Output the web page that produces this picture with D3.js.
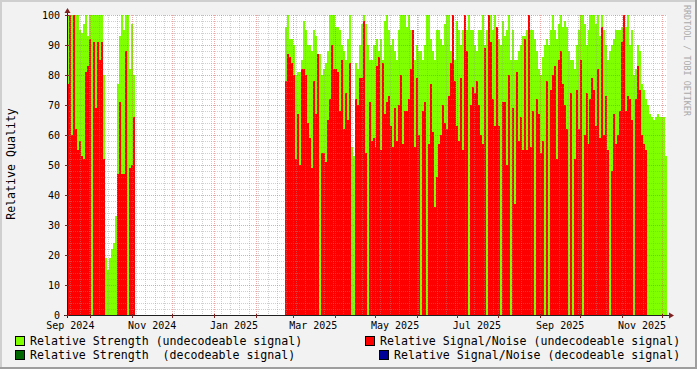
<!DOCTYPE html>
<html>
<head>
<meta charset="utf-8">
<script src="https://cdn.jsdelivr.net/npm/d3@7/dist/d3.min.js"></script>
<style>
  body { margin: 0; background: #f2f2f2; }
  svg { display: block; }
  text { font-family: "DejaVu Sans Mono", monospace; white-space: pre; }
</style>
</head>
<body>
<svg id="chart"></svg>
<script>
// --- data (one value per ~1.5 days) ---
const stepHours = 35.6;

// first block: mid Sep 2024 -> early Nov 2024
const startA = new Date(2024, 8, 13, 12, 30);
const strengthA = [100,100,100,100,100,100,95,94,97,100,93,100,100,100,100,100,100,100,80,
  19,15,19,22,24,33,77,93,100,95,100,100,82,97,80];
const snrA = [77,100,60,100,62,55,58,53,52,81,83,92,0,91,69,91,85,91,52,
  0,0,0,0,0,0,47,71,47,47,88,0,49,50,66];

// second block: late Feb 2025 -> Nov 2025
const startC = new Date(2025, 1, 22, 22, 0);
const strengthC = [
  96,100,92,92,90,80,81,81,85,98,95,90,90,88,95,93,85,87,80,82,84,88,100,100,
  100,96,96,95,90,88,85,92,100,56,53,84,82,90,97,100,97,90,85,85,90,90,92,88,
  92,85,98,100,95,90,92,88,85,95,100,100,100,96,100,95,95,85,90,88,88,85,90,100,
  100,92,88,85,95,95,92,90,97,100,100,88,100,85,98,95,90,95,100,95,100,95,95,90,88,
  95,95,100,90,95,100,100,95,100,92,92,90,98,93,95,100,85,95,85,85,88,90,93,93,
  95,100,95,95,92,88,82,80,86,90,92,90,95,100,95,92,97,100,96,98,96,88,85,85,82,
  90,95,100,100,97,90,95,100,100,100,97,100,93,100,95,90,85,88,90,92,95,95,95,96,
  100,96,100,90,95,80,82,90,88,77,75,72,70,67,66,65,66,67,66,66,66,53];
const snrC = [
  78,87,86,84,80,52,67,50,82,82,80,64,59,49,78,67,87,0,54,54,51,65,72,90,
  82,82,81,68,85,62,74,65,84,0,0,72,70,79,79,98,54,0,71,58,59,56,83,86,
  55,84,67,71,73,63,56,69,58,70,80,57,68,68,72,82,95,56,79,60,0,68,71,0,
  57,77,61,36,46,57,60,70,64,62,73,84,100,78,63,58,79,55,100,88,0,70,76,74,78,
  70,60,57,89,0,100,91,72,63,96,63,0,71,71,50,80,0,69,37,81,58,66,55,92,
  55,100,56,68,0,72,67,54,58,0,78,0,75,80,83,52,85,88,77,70,62,0,74,0,52,
  75,62,85,0,60,74,57,72,79,75,63,82,59,96,60,73,55,0,48,67,57,60,68,91,
  100,68,73,72,65,0,72,83,75,60,57,55,0,0,0,0,0,0,0,0,0,0];

const segments = [
  { start: startA, strength: strengthA, snr: snrA },
  { start: startC, strength: strengthC, snr: snrC }
];

const xDomain = [new Date(2024, 8, 13, 12, 30), new Date(2025, 11, 4, 15, 0)];
const yTicksMajor = d3.range(0, 101, 10);
const yTicksMinor = d3.range(0, 101, 2).filter(d => d % 10 !== 0);

const legendItems = [
  { label: "Relative Strength (undecodeable signal)", color: "#7fff00" },
  { label: "Relative Signal/Noise (undecodeable signal)", color: "#ff0000" },
  { label: "Relative Strength  (decodeable signal)", color: "#006600" },
  { label: "Relative Signal/Noise (decodeable signal)", color: "#000099" }
];

// --- layout ---
const width = 697, height = 369;
const plot = { left: 67, top: 15, w: 600, h: 300 };

const svg = d3.select("#chart")
  .attr("width", width)
  .attr("height", height);

// background with rrdtool style shading
svg.append("rect").attr("width", width).attr("height", height).attr("fill", "#f2f2f2");
svg.append("path")
  .attr("d", `M0,0H${width}V2H2V${height}H0Z`)
  .attr("fill", "#cfcfcf");
svg.append("path")
  .attr("d", `M${width},${height}H0V${height - 2}H${width - 2}V0H${width}Z`)
  .attr("fill", "#9e9e9e");

const x = d3.scaleTime().domain(xDomain).range([plot.left, plot.left + plot.w]);
const y = d3.scaleLinear().domain([0, 100]).range([plot.top + plot.h, plot.top]);

svg.append("rect")
  .attr("x", plot.left).attr("y", plot.top)
  .attr("width", plot.w).attr("height", plot.h)
  .attr("fill", "#ffffff");

const stepMs = stepHours * 3600 * 1000;

function points(seg, key) {
  const vals = seg[key];
  const pts = vals.map((v, i) => ({ t: new Date(+seg.start + i * stepMs), v }));
  pts.push({ t: new Date(+seg.start + vals.length * stepMs), v: vals[vals.length - 1] });
  return pts;
}

const area = d3.area()
  .curve(d3.curveStepAfter)
  .x(d => x(d.t))
  .y0(y(0))
  .y1(d => y(d.v));

const gData = svg.append("g").attr("shape-rendering", "crispEdges");
segments.forEach(seg => {
  gData.append("path").attr("d", area(points(seg, "strength"))).attr("fill", "#7fff00");
  gData.append("path").attr("d", area(points(seg, "snr"))).attr("fill", "#ff0000");
});

// grid (drawn over the data, like rrdtool)
const gGrid = svg.append("g").attr("shape-rendering", "crispEdges");
const weeks = d3.timeMonday.range(xDomain[0], xDomain[1]);
const months = d3.timeMonth.range(xDomain[0], xDomain[1]);
const monthSet = new Set(months.map(d => +d3.timeDay.floor(d)));

gGrid.selectAll(".vmin").data(weeks.filter(d => !monthSet.has(+d))).join("line")
  .attr("x1", d => Math.round(x(d)) + 0.5).attr("x2", d => Math.round(x(d)) + 0.5)
  .attr("y1", plot.top).attr("y2", plot.top + plot.h)
  .attr("stroke", "rgba(150,150,150,0.45)").attr("stroke-dasharray", "1,1");
gGrid.selectAll(".hmin").data(yTicksMinor).join("line")
  .attr("x1", plot.left).attr("x2", plot.left + plot.w)
  .attr("y1", d => y(d) + 0.5).attr("y2", d => y(d) + 0.5)
  .attr("stroke", "rgba(150,150,150,0.45)").attr("stroke-dasharray", "1,1");
gGrid.selectAll(".vmaj").data(months).join("line")
  .attr("x1", d => Math.round(x(d)) + 0.5).attr("x2", d => Math.round(x(d)) + 0.5)
  .attr("y1", plot.top).attr("y2", plot.top + plot.h)
  .attr("stroke", "rgba(222,79,79,0.5)").attr("stroke-dasharray", "1,1");
gGrid.selectAll(".hmaj").data(yTicksMajor.filter(d => d > 0)).join("line")
  .attr("x1", plot.left).attr("x2", plot.left + plot.w)
  .attr("y1", d => y(d) + 0.5).attr("y2", d => y(d) + 0.5)
  .attr("stroke", "rgba(222,79,79,0.5)").attr("stroke-dasharray", "1,1");

// axes
const axisCol = "#1f1f1f", arrowCol = "#802020";
const x0 = plot.left, y0 = plot.top + plot.h;
svg.append("line").attr("x1", x0 - 3).attr("x2", x0 + plot.w + 3)
  .attr("y1", y0 + 0.5).attr("y2", y0 + 0.5).attr("stroke", axisCol);
svg.append("line").attr("x1", x0 + 0.5).attr("x2", x0 + 0.5)
  .attr("y1", y0 + 3).attr("y2", plot.top - 3).attr("stroke", axisCol);
svg.append("path").attr("d", `M${x0 + plot.w + 7},${y0 + 0.5}l-5,-3v6z`).attr("fill", arrowCol);
svg.append("path").attr("d", `M${x0 + 0.5},${plot.top - 7}l-3,5h6z`).attr("fill", arrowCol);

// tick marks
svg.selectAll(".xt").data(months).join("line")
  .attr("x1", d => Math.round(x(d)) + 0.5).attr("x2", d => Math.round(x(d)) + 0.5)
  .attr("y1", y0 - 1).attr("y2", y0 + 3).attr("stroke", arrowCol);
svg.selectAll(".yt").data(yTicksMajor).join("line")
  .attr("x1", x0 - 2).attr("x2", x0 + 2)
  .attr("y1", d => y(d) + 0.5).attr("y2", d => y(d) + 0.5).attr("stroke", arrowCol);

// y labels
svg.selectAll(".yl").data(yTicksMajor).join("text")
  .attr("x", 60).attr("y", d => y(d) + 3.5)
  .attr("text-anchor", "end").attr("font-size", "10px").attr("fill", "#000")
  .text(d => d);

// x labels: every second month, centred in the month (rrdtool style)
const labelMonths = d3.timeMonth.every(2).range(new Date(2024, 8, 1), xDomain[1])
  .filter(d => d.getMonth() % 2 === 0);
const fmt = d3.timeFormat("%b %Y");
svg.selectAll(".xl").data(labelMonths).join("text")
  .attr("x", d => x(new Date(+d + 15 * 86400000)))
  .attr("y", 328.5)
  .attr("text-anchor", "middle").attr("font-size", "10px").attr("fill", "#000")
  .text(d => fmt(d));

// y title
svg.append("text")
  .attr("transform", "translate(15,164) rotate(-90)")
  .attr("text-anchor", "middle").attr("font-size", "11.6px").attr("fill", "#000")
  .text("Relative Quality");

// watermark
svg.append("text")
  .attr("transform", "translate(684,5) rotate(90)")
  .attr("font-size", "8.4px").attr("fill", "#aaaaaa")
  .text("RRDTOOL / TOBI OETIKER");

// legend
const legendPos = [
  { sx: 15, tx: 30, y: 336 },
  { sx: 365, tx: 380, y: 336 },
  { sx: 15, tx: 30, y: 350 },
  { sx: 379, tx: 394, y: 350 }
];
const gLeg = svg.append("g");
legendItems.forEach((it, i) => {
  const p = legendPos[i];
  gLeg.append("rect").attr("x", p.sx + 0.5).attr("y", p.y + 0.5)
    .attr("width", 9).attr("height", 9)
    .attr("fill", it.color).attr("stroke", "#000").attr("stroke-width", 1);
  gLeg.append("text").attr("x", p.tx).attr("y", p.y + 8.5)
    .attr("font-size", "11.6px").attr("fill", "#000")
    .attr("xml:space", "preserve")
    .text(it.label);
});
</script>
</body>
</html>
